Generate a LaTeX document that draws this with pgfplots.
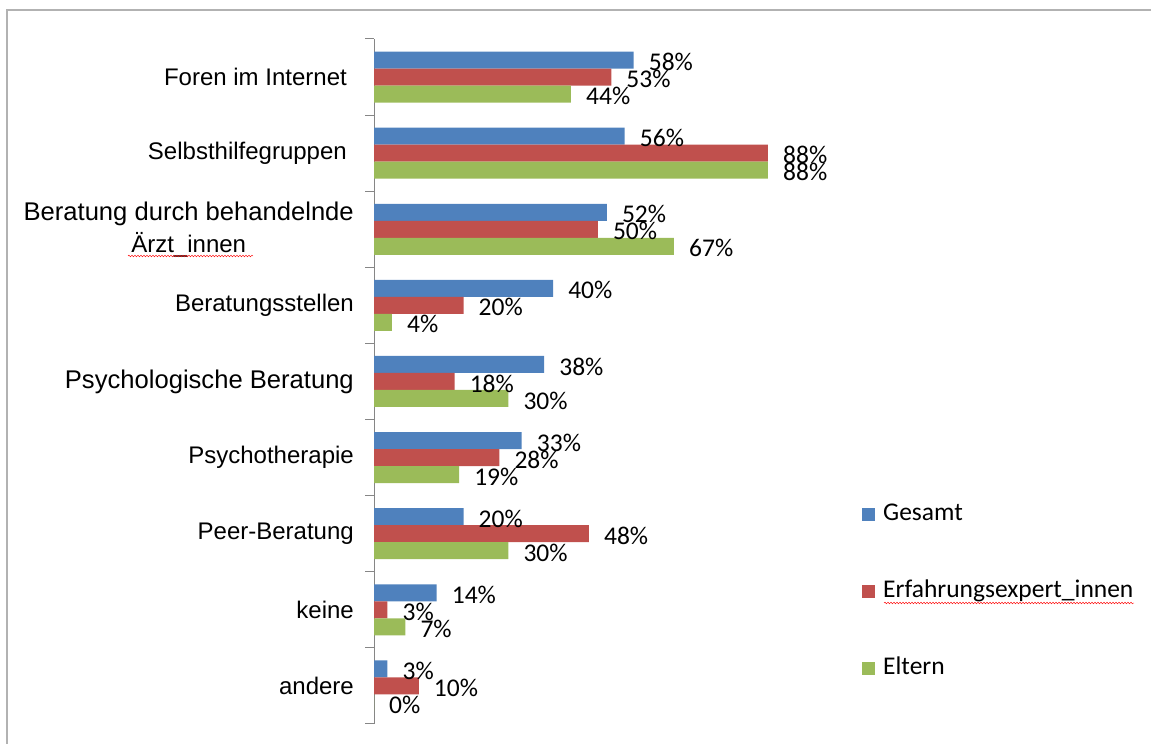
\documentclass[border=0pt]{standalone}
\usepackage{fontspec}
\setmainfont{Carlito}
\newfontfamily\arialf{Liberation Sans}
\usepackage{pgfplots}
\pgfplotsset{compat=1.18}
\usetikzlibrary{decorations.pathmorphing}
\definecolor{cblue}{HTML}{4F81BD}
\definecolor{cred}{HTML}{C0504D}
\definecolor{cgreen}{HTML}{9BBB59}
\definecolor{axgray}{HTML}{868686}
\begin{document}
\begin{tikzpicture}
\useasboundingbox (0pt,0pt) rectangle (1151pt,744pt);
\draw[gray!60, line width=1.5pt] (7pt,-5pt) -- (7pt,734pt) -- (1160pt,734pt);
\begin{axis}[
  at={(374pt,20pt)}, anchor=south west,
  scale only axis, width=447.7pt, height=685pt,
  xmin=0, xmax=100, ymin=-0.5, ymax=8.5,
  axis x line=none, axis y line*=left,
  y axis line style={axgray, line width=1pt},
  ytick={0,...,8},
  yticklabels={andere,keine,Peer-Beratung,Psychotherapie,{\fontsize{25.6}{32}\selectfont Psychologische Beratung},Beratungsstellen,{{\fontsize{25.6}{32}\selectfont Beratung durch behandelnde}\\Ärzt\_innen},{Selbsthilfegruppen\kern7pt},{Foren im Internet\kern7pt}},
  major tick length=0pt,
  extra y ticks={-0.5,0.5,...,8.5},
  extra y tick labels={},
  extra y tick style={major tick length=9pt, tick align=outside, tick style={axgray, line width=1pt}},
  yticklabel style={font=\arialf\fontsize{24}{32}\selectfont, align=center, inner sep=0pt, xshift=-20pt, text=black},
  point meta=x,
  nodes near coords={\pgfmathprintnumber[assume math mode=true]{\pgfplotspointmeta}\%},
  every node near coord/.append style={font=\fontsize{25.5}{25.5}\selectfont, anchor=west, inner sep=0pt, xshift=15pt, yshift=-2pt, text=black},
  legend style={at={(1.09,0.1927)}, anchor=west, draw=none, fill=none, inner sep=0pt, row sep=55pt, column sep=8pt,
    font=\fontsize{25.5}{25.5}\selectfont, nodes={inner sep=0pt, text height=17pt, text depth=5pt}},
  legend cell align=left,
  legend image code/.code={\fill[#1] (0pt,-6.5pt) rectangle (13pt,6.5pt);},
]
\addplot[xbar, bar width=17pt, bar shift=17pt, fill=cblue, draw=none, every node near coord/.append style={yshift=17pt}] coordinates {(3,0) (14,1) (20,2) (33,3) (38,4) (40,5) (52,6) (56,7) (58,8)};
\addplot[xbar, bar width=17pt, bar shift=0pt, fill=cred, draw=none] coordinates {(10,0) (3,1) (48,2) (28,3) (18,4) (20,5) (50,6) (88,7) (53,8)};
\addplot[xbar, bar width=17pt, bar shift=-17pt, fill=cgreen, draw=none, every node near coord/.append style={yshift=-17pt}] coordinates {(0,0) (7,1) (30,2) (19,3) (30,4) (4,5) (67,6) (88,7) (44,8)};
\legend{Gesamt,Erfahrungsexpert\_innen,Eltern}
\end{axis}
\draw[red, decorate, decoration={snake, amplitude=0.9pt, segment length=3pt}] (128pt,488pt) -- (253pt,488pt);
\draw[red, decorate, decoration={snake, amplitude=0.9pt, segment length=3pt}] (884pt,141pt) -- (1134pt,141pt);
\end{tikzpicture}
\end{document}
